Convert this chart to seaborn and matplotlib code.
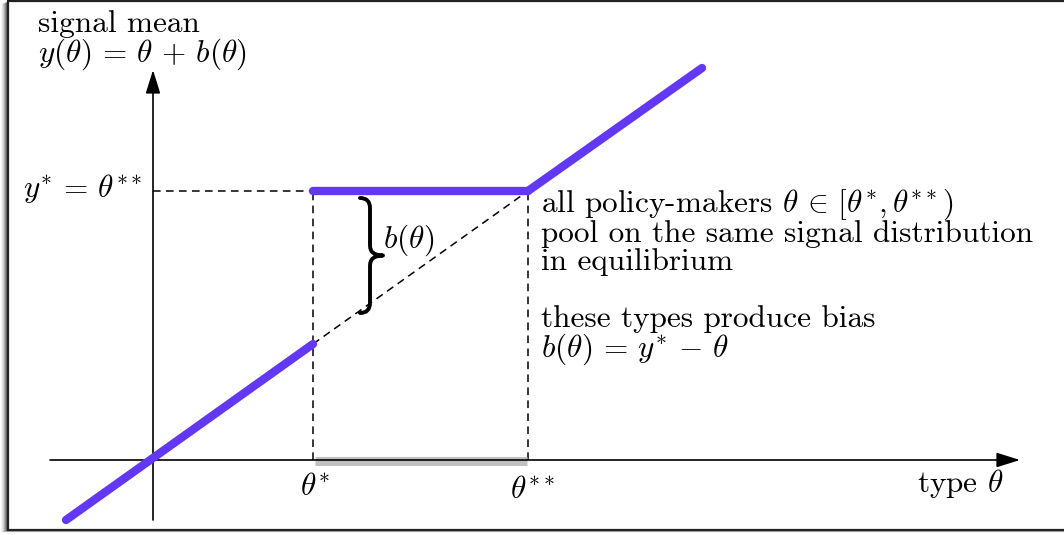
import numpy as np
import pandas as pd
import matplotlib
matplotlib.use("Agg")
import matplotlib.pyplot as plt
from matplotlib.path import Path
from matplotlib.patches import PathPatch, Rectangle
import seaborn as sns

# ---------------- data (diagram units) ----------------
theta_star = 160          # theta*
theta_2star = 375         # theta**
y_star = 269              # y* = theta**

# purple signal-mean function, three segments
seg_names = ["lower", "lower", "pool", "pool", "upper", "upper"]
seg_theta = [-87, 160, 160, 375, 375, 549]
seg_y = [-60, 116, 269, 269, 269, 392]

# dashed diagonal (theta itself) inside the pooling interval
diag_theta = [160, 375]
diag_y = [116, 269]

# axes extent
x_axis = [-103, 867]
y_axis = [-60, 390]

PURPLE = "#6338F4"

sns.set_theme(style="white")
plt.rcParams["font.family"] = ["cmr10", "DejaVu Serif"]
plt.rcParams["mathtext.fontset"] = "cm"
plt.rcParams["axes.formatter.use_mathtext"] = True
plt.rcParams["text.color"] = "black"

fig = plt.figure(figsize=(10.64, 5.35), dpi=100)

# background frame axes (pixel coordinates)
bg = fig.add_axes([0, 0, 1, 1], zorder=0)
bg.set_xlim(0, 1064)
bg.set_ylim(535, 0)
bg.axis("off")
for i, a in enumerate([0.04, 0.07, 0.10, 0.14, 0.19, 0.25, 0.32]):
    off = 7 - i
    bg.add_patch(Rectangle((8 - off, 1 + off * 0.4), 1100, 529, facecolor="black",
                           edgecolor="none", alpha=a))
bg.add_patch(Rectangle((8, 1), 1100, 529, facecolor="white", edgecolor="#222222", lw=1.6))

ax = fig.add_axes([0, 0, 1, 1], zorder=1)
ax.patch.set_alpha(0)

# coordinate axes with arrows
arrow_kw = dict(arrowstyle="-|>,head_length=0.8,head_width=0.25", mutation_scale=18,
                lw=1.2, color="black", shrinkA=0, shrinkB=0)
ax.annotate("", xy=(x_axis[1], 0), xytext=(x_axis[0], 0), arrowprops=arrow_kw)
ax.annotate("", xy=(0, y_axis[1]), xytext=(0, y_axis[0]), arrowprops=arrow_kw)

# dashed guides
dash = dict(color="black", lw=1.1, ls=(0, (5, 3.5)))
ax.plot([0, theta_star], [y_star, y_star], **dash)
ax.plot([theta_star, theta_star], [0, y_star], **dash)
ax.plot([theta_2star, theta_2star], [0, y_star], **dash)
ax.plot(diag_theta, diag_y, **dash)

# grey pooling interval on the type axis
ax.plot([theta_star + 2, theta_2star - 1], [-1, -1], color="#c0c0c0", lw=6.5,
        solid_capstyle="butt", zorder=2)

# purple signal mean
df = pd.DataFrame({"theta": seg_theta, "y": seg_y, "segment": seg_names})
sns.lineplot(data=df, x="theta", y="y", units="segment", estimator=None, sort=False,
             color=PURPLE, lw=6.0, solid_capstyle="round", ax=ax, zorder=4)
ax.set_xlim(-153, 911)
ax.set_ylim(-75, 460)
ax.axis("off")

# brace for b(theta)
bx0 = theta_star + 47
bx1 = bx0 + 10
bx2 = bx1 + 13
T = y_star - 7
B = 147
M = (T + B) / 2
r = 10
verts = [(bx0, T), (bx1, T), (bx1, T - r),
         (bx1, M + r),
         (bx1, M), (bx2, M),
         (bx1, M), (bx1, M - r),
         (bx1, B + r),
         (bx1, B), (bx0, B)]
codes = [Path.MOVETO, Path.CURVE3, Path.CURVE3,
         Path.LINETO,
         Path.CURVE3, Path.CURVE3,
         Path.CURVE3, Path.CURVE3,
         Path.LINETO,
         Path.CURVE3, Path.CURVE3]
ax.add_patch(PathPatch(Path(verts, codes), facecolor="none", edgecolor="black",
                       lw=2.8, capstyle="round", joinstyle="round", zorder=3))

FS = 22.5
ax.text(-115, 428, "signal mean", fontsize=FS, va="baseline", ha="left")
ax.text(-115, 398, r"$y(\theta)\,=\,\theta\,+\,b(\theta)$", fontsize=FS, va="baseline", ha="left")
ax.text(-10, 263, r"$y^{*}\,=\,\theta^{**}$", fontsize=FS, va="baseline", ha="right")
ax.text(230, 212, r"$b(\theta)$", fontsize=FS, va="baseline", ha="left")

tx = 388
ax.text(tx, 248, r"all policy-makers $\theta\,\in\,[\theta^{*}, \theta^{**})$", fontsize=FS, va="baseline")
ax.text(tx, 218, "pool on the same signal distribution", fontsize=FS, va="baseline")
ax.text(tx, 190, "in equilibrium", fontsize=FS, va="baseline")
ax.text(tx, 133, "these types produce bias", fontsize=FS, va="baseline")
ax.text(tx, 103, r"$b(\theta)\,=\,y^{*}\,-\,\theta$", fontsize=FS, va="baseline")

ax.text(147, -35, r"$\theta^{*}$", fontsize=FS, va="baseline", ha="left")
ax.text(357, -38, r"$\theta^{**}$", fontsize=FS, va="baseline", ha="left")
ax.text(764, -32, r"type $\theta$", fontsize=FS, va="baseline", ha="left")

fig.savefig("out.png", dpi=100)
